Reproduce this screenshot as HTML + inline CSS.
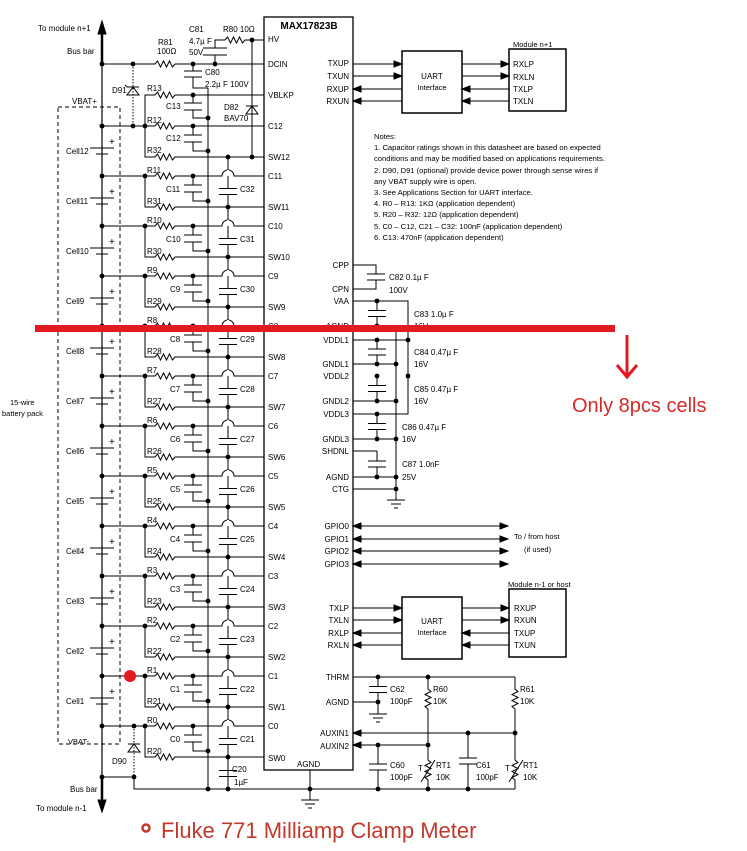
<!DOCTYPE html>
<html><head><meta charset="utf-8"><style>
html,body{margin:0;padding:0;background:#fff;}
svg{display:block;font-family:"Liberation Sans",Arial,sans-serif;}
text{font-size:8px;fill:#000;}
.r{text-anchor:end}
</style></head><body>
<svg id="s" width="747" height="851" viewBox="0 0 747 851" xmlns="http://www.w3.org/2000/svg">
<g id="g" stroke="#000" stroke-width="1" fill="none"></g>
<rect x="264" y="17" width="89" height="753" fill="none" stroke="#000" stroke-width="1.3"/>
<text x="309" y="29" text-anchor="middle" style="font-weight:bold;font-size:10px">MAX17823B</text>
<g>
<text x="268" y="42">HV</text><text x="268" y="67">DCIN</text><text x="268" y="98">VBLKP</text>
<text x="268" y="129">C12</text><text x="268" y="160">SW12</text>
<text x="268" y="179">C11</text><text x="268" y="210">SW11</text>
<text x="268" y="229">C10</text><text x="268" y="260">SW10</text>
<text x="268" y="279">C9</text><text x="268" y="310">SW9</text>
<text x="268" y="329">C8</text><text x="268" y="360">SW8</text>
<text x="268" y="379">C7</text><text x="268" y="410">SW7</text>
<text x="268" y="429">C6</text><text x="268" y="460">SW6</text>
<text x="268" y="479">C5</text><text x="268" y="510">SW5</text>
<text x="268" y="529">C4</text><text x="268" y="560">SW4</text>
<text x="268" y="579">C3</text><text x="268" y="610">SW3</text>
<text x="268" y="629">C2</text><text x="268" y="660">SW2</text>
<text x="268" y="679">C1</text><text x="268" y="710">SW1</text>
<text x="268" y="729">C0</text><text x="268" y="761">SW0</text>
<text x="297" y="767">AGND</text>
</g>
<g>
<text class="r" x="349" y="66">TXUP</text><text class="r" x="349" y="79">TXUN</text><text class="r" x="349" y="92">RXUP</text><text class="r" x="349" y="104">RXUN</text>
<text class="r" x="349" y="268">CPP</text><text class="r" x="349" y="292">CPN</text><text class="r" x="349" y="304">VAA</text><text class="r" x="349" y="329">AGND</text>
<text class="r" x="349" y="343">VDDL1</text><text class="r" x="349" y="367">GNDL1</text><text class="r" x="349" y="379">VDDL2</text><text class="r" x="349" y="404">GNDL2</text>
<text class="r" x="349" y="417">VDDL3</text><text class="r" x="349" y="442">GNDL3</text><text class="r" x="349" y="454">SHDNL</text><text class="r" x="349" y="480">AGND</text><text class="r" x="349" y="492">CTG</text>
<text class="r" x="349" y="529">GPIO0</text><text class="r" x="349" y="542">GPIO1</text><text class="r" x="349" y="554">GPIO2</text><text class="r" x="349" y="567">GPIO3</text>
<text class="r" x="349" y="611">TXLP</text><text class="r" x="349" y="623">TXLN</text><text class="r" x="349" y="636">RXLP</text><text class="r" x="349" y="648">RXLN</text>
<text class="r" x="349" y="680">THRM</text><text class="r" x="349" y="705">AGND</text><text class="r" x="349" y="736">AUXIN1</text><text class="r" x="349" y="749">AUXIN2</text>
</g>
<rect x="402" y="51" width="60" height="62" fill="none" stroke="#000" stroke-width="1.5"/>
<text x="432" y="79" text-anchor="middle">UART</text><text x="432" y="90" text-anchor="middle" style="font-size:7.5px">Interface</text>
<rect x="509" y="49" width="57" height="62" fill="none" stroke="#000" stroke-width="1.5"/>
<text x="513" y="47" style="font-size:7.5px">Module n+1</text>
<text x="513" y="67">RXLP</text><text x="513" y="80">RXLN</text><text x="513" y="92">TXLP</text><text x="513" y="104">TXLN</text>
<rect x="402" y="597" width="60" height="62" fill="none" stroke="#000" stroke-width="1.5"/>
<text x="432" y="624" text-anchor="middle">UART</text><text x="432" y="635" text-anchor="middle" style="font-size:7.5px">Interface</text>
<rect x="509" y="589" width="57" height="68" fill="none" stroke="#000" stroke-width="1.5"/>
<text x="508" y="587" style="font-size:7.5px">Module n-1 or host</text>
<text x="514" y="611">RXUP</text><text x="514" y="623">RXUN</text><text x="514" y="636">TXUP</text><text x="514" y="648">TXUN</text>
<text x="514" y="539" style="font-size:7.5px">To / from host</text><text x="524" y="552" style="font-size:7.5px">(if used)</text>
<g>
<text x="374" y="139" style="font-size:7.6px">Notes:</text>
<text x="374" y="150" style="font-size:7.6px">1.  Capacitor ratings shown in this datasheet are based on expected</text>
<text x="374" y="161" style="font-size:7.6px">conditions and may be modified based on applications requirements.</text>
<text x="374" y="173" style="font-size:7.6px">2. D90, D91 (optional) provide device power through sense wires if</text>
<text x="374" y="184" style="font-size:7.6px">any VBAT supply wire is open.</text>
<text x="374" y="195" style="font-size:7.6px">3. See Applications Section for UART interface.</text>
<text x="374" y="206" style="font-size:7.6px">4. R0 – R13: 1KΩ  (application dependent)</text>
<text x="374" y="217" style="font-size:7.6px">5. R20 – R32: 12Ω  (application dependent)</text>
<text x="374" y="229" style="font-size:7.6px">5. C0 – C12, C21 – C32: 100nF (application dependent)</text>
<text x="374" y="240" style="font-size:7.6px">6. C13: 470nF (application dependent)</text>
</g>
<text x="389" y="280">C82  0.1µ F</text><text x="389" y="293">100V</text>
<text x="414" y="317">C83  1.0µ F</text><text x="414" y="329">16V</text>
<text x="414" y="355">C84  0.47µ F</text><text x="414" y="367">16V</text>
<text x="414" y="392">C85  0.47µ F</text><text x="414" y="404">16V</text>
<text x="402" y="430">C86  0.47µ F</text><text x="402" y="442">16V</text>
<text x="402" y="467">C87  1.0nF</text><text x="402" y="480">25V</text>
<text x="390" y="692">C62</text><text x="390" y="704">100pF</text>
<text x="433" y="692">R60</text><text x="433" y="704">10K</text>
<text x="520" y="692">R61</text><text x="520" y="704">10K</text>
<text x="390" y="768">C60</text><text x="390" y="780">100pF</text>
<text x="436" y="768">RT1</text><text x="436" y="780">10K</text>
<text x="476" y="768">C61</text><text x="476" y="780">100pF</text>
<text x="523" y="768">RT1</text><text x="523" y="780">10K</text>
<text x="418" y="771">T</text><text x="505" y="771">T</text>
<text x="38" y="31">To module n+1</text>
<text x="67" y="54">Bus bar</text>
<text x="72" y="104">VBAT+</text>
<text x="112" y="93">D91</text>
<text x="158" y="45">R81</text><text x="157" y="54">100Ω</text>
<text x="189" y="32">C81</text><text x="189" y="44">4.7µ F</text><text x="189" y="55">50V</text>
<text x="223" y="32">R80 10Ω</text>
<text x="205" y="75">C80</text><text x="205" y="87">2.2µ F 100V</text>
<text x="224" y="110">D82</text><text x="224" y="121">BAV70</text>
<text x="147" y="91">R13</text><text x="166" y="109">C13</text>
<text x="147" y="123">R12</text><text x="166" y="141">C12</text><text x="147" y="153">R32</text>
<text x="68" y="744" style="font-size:7.5px">VBAT-</text>
<text x="112" y="764">D90</text>
<text x="70" y="792">Bus bar</text>
<text x="36" y="811">To module n-1</text>
<text x="10" y="405" style="font-size:7.5px">15-wire</text><text x="2" y="416" style="font-size:7.5px">battery pack</text>
<text x="232" y="772">C20</text><text x="234" y="785">1µF</text>
<g id="lbl"></g>
<rect x="35" y="325" width="580" height="7" fill="#e21b23"/>
<path d="M627 335 V376" stroke="#e21b23" stroke-width="3"/>
<path d="M617 365 L627 377 L637 365" stroke="#e21b23" stroke-width="3" fill="none"/>
<text x="572" y="412" style="font-size:20px;fill:#d42a2a">Only 8pcs cells</text>
<circle cx="130" cy="676" r="6" fill="#e21b23"/>
<circle cx="146" cy="828" r="3.5" fill="none" stroke="#c0392b" stroke-width="2.5"/>
<text x="161" y="838" style="font-size:22px;fill:#c0392b">Fluke 771 Milliamp Clamp Meter</text>
<script>
(function(){
var g=document.getElementById('g'),NS='http://www.w3.org/2000/svg',L=document.getElementById('lbl');
function el(t,a){var e=document.createElementNS(NS,t);for(var k in a)e.setAttribute(k,a[k]);g.appendChild(e);return e;}
function P(d,ex){var a={d:d};if(ex)for(var k in ex)a[k]=ex[k];return el('path',a);}
function dot(x,y){el('circle',{cx:x,cy:y,r:2.4,fill:'#000',stroke:'none'});}
function zz(){return ' l2.5 -3 l3 6 l3 -6 l3 6 l3 -6 l3 6 l2.5 -3';}
function zv(){return ' l3 2.5 l-6 3 l6 3 l-6 3 l6 3 l-6 3 l3 2.5';}
function capV(x,y1,y2,w){var m=(y1+y2)/2;w=w||9;P('M'+x+' '+y1+'V'+(m-3)+'M'+(x-w)+' '+(m-3)+'H'+(x+w)+'M'+(x-w)+' '+(m+3)+'H'+(x+w)+'M'+x+' '+(m+3)+'V'+y2);}
function arrR(x,y){P('M'+(x-8)+' '+(y-3)+'L'+x+' '+y+'L'+(x-8)+' '+(y+3)+'Z',{fill:'#000'});}
function arrL(x,y){P('M'+(x+8)+' '+(y-3)+'L'+x+' '+y+'L'+(x+8)+' '+(y+3)+'Z',{fill:'#000'});}
function txt(x,y,s){var t=document.createElementNS(NS,'text');t.setAttribute('x',x);t.setAttribute('y',y);t.textContent=s;L.appendChild(t);return t;}
P('M102 34 V777',{'stroke-width':1.2});
P('M102 777 V800',{'stroke-width':2.5});P('M98 800 L102 812 L106 800Z',{fill:'#000'});
P('M102 64 V34',{'stroke-width':2.5});P('M98 34 L102 21 L106 34Z',{fill:'#000'});
P('M58 107 H120 V744 H58 Z',{'stroke-dasharray':'4,3'});
dot(102,64);dot(133,64);P('M102 64 H155'+zz()+' H264');
dot(193,64);dot(215,64);
P('M215 64 V55 M203 55 H227 M203 48 H227 M215 48 V40 H225'+zz()+' H264');
dot(252,40);
P('M252 40 V157');P('M246 106 H258 M252 106 L246 114 H258 Z');dot(252,157);
P('M193 64 V71 M184 71 H202 M184 77 H202 M193 77 V88 H208');
P('M133 64 V126',{'stroke-dasharray':'1.5,1.5'});P('M127 87 H139 M133 87 L127 95 H139 Z M127 87 l-2 -2');
dot(102,126);dot(133,126);
P('M145 126 V95 H155'+zz()+' H264');dot(193,95);
P('M193 95 V103 M184 103 H202 M184 110 H202 M193 110 V118 H208');dot(208,118);
P('M208 88 V789');
var yc=function(n){return 126+(12-n)*50;};
for(var n=12;n>=0;n--){
 var y=yc(n),ys=y+31;
 dot(102,y);dot(145,y);
 P('M102 '+y+' H145');
 var d='M145 '+y+' H155'+zz();
 if(n<=11){d+=' H222 A6 6 0 0 1 234 '+y+' H264';} else d+=' H264';
 P(d);
 dot(193,y);
 P('M193 '+y+' V'+(y+9)+' M184 '+(y+9)+' H202 M184 '+(y+16)+' H202 M193 '+(y+16)+' V'+(y+25)+' H208');dot(208,y+25);
 P('M145 '+y+' V'+ys+' H155'+zz()+' H264');
 dot(228,ys);
 if(n>=1){P('M102 '+y+' V'+(y+22)+' M90 '+(y+22)+' H114 M96 '+(y+28)+' H108 M102 '+(y+28)+' V'+(y+50));
  txt(109,y+19,'+').setAttribute('style','font-size:10px');
  txt(66,y+28,'Cell'+n);}
 if(n<=11){txt(147,y-3,'R'+n);txt(147,ys-3,'R'+(20+n));txt(n<10?170:166,y+16,'C'+n);txt(240,y+16,'C'+(21+n));}
}
P('M228 157 V789');
for(var n=11;n>=0;n--){var y=yc(n),m=y+15.5;P('M228 '+(m-3)+'V'+(m+3),{stroke:'#fff','stroke-width':2});P('M219 '+(m-3)+'H237 M219 '+(m+3)+'H237');
 P('M228 '+(y-6)+'V'+(y),{stroke:'#fff','stroke-width':2});}
capV(228,758,789);
dot(134,726);P('M134 726 V777',{'stroke-dasharray':'1.5,1.5'});P('M128 744 H140 M134 744 L128 752 H140 Z');
dot(102,777);dot(134,777);P('M102 777 H134 V789 H515');
[208,228,310,378,428,468].forEach(function(x){dot(x,789);});
P('M310 770 V800 M301 800 H319 M305 804 H315 M308 808 H312');
[[64,1],[76,1],[89,0],[101,0]].forEach(function(a){P('M353 '+a[0]+'H402 M462 '+a[0]+'H509');
 if(a[1]){arrR(402,a[0]);arrR(509,a[0]);}else{arrL(353,a[0]);arrL(462,a[0]);}});
[[608,1],[620,1],[633,0],[645,0]].forEach(function(a){P('M353 '+a[0]+'H402 M462 '+a[0]+'H509');
 if(a[1]){arrR(402,a[0]);arrR(509,a[0]);}else{arrL(353,a[0]);arrL(462,a[0]);}});
[526,539,551,564].forEach(function(y){P('M353 '+y+'H508');arrL(353,y);arrR(508,y);});
P('M353 265 H376 V274 M367 274 H385 M367 280 H385 M376 280 V289 H353');
P('M353 301 H408 V414 H353');dot(377,301);
capV(377,301,326);dot(377,326);P('M353 326 H396 V500');
[[340,364],[376,401],[414,439]].forEach(function(a){capV(377,a[0],a[1]);dot(377,a[0]);dot(377,a[1]);P('M353 '+a[1]+'H396');dot(396,a[1]);});
P('M353 340 H408');dot(408,340);dot(408,376);
P('M353 451 H377');capV(377,451,477);dot(377,477);P('M353 477 H396');dot(396,477);P('M353 489 H396');dot(396,489);
P('M387 500 H405 M391 504 H401 M394 508 H398');
P('M353 677 H515');dot(378,677);dot(428,677);
capV(378,677,702);P('M353 702 H378 V714 M369 714 H387 M373 718 H383 M376 722 H380');dot(378,702);
P('M428 677 V689'+zv()+' V760'+zv()+' V789');
P('M515 677 V689'+zv()+' V760'+zv()+' V789');
P('M421 782 L435 760 M509 782 L523 760');
P('M353 733 H515');arrL(353,733);dot(468,733);dot(515,733);capV(468,733,789);
P('M353 745 H428');arrL(353,745);dot(378,745);dot(428,745);capV(378,745,789);
})();
</script>
</svg>
</body></html>
